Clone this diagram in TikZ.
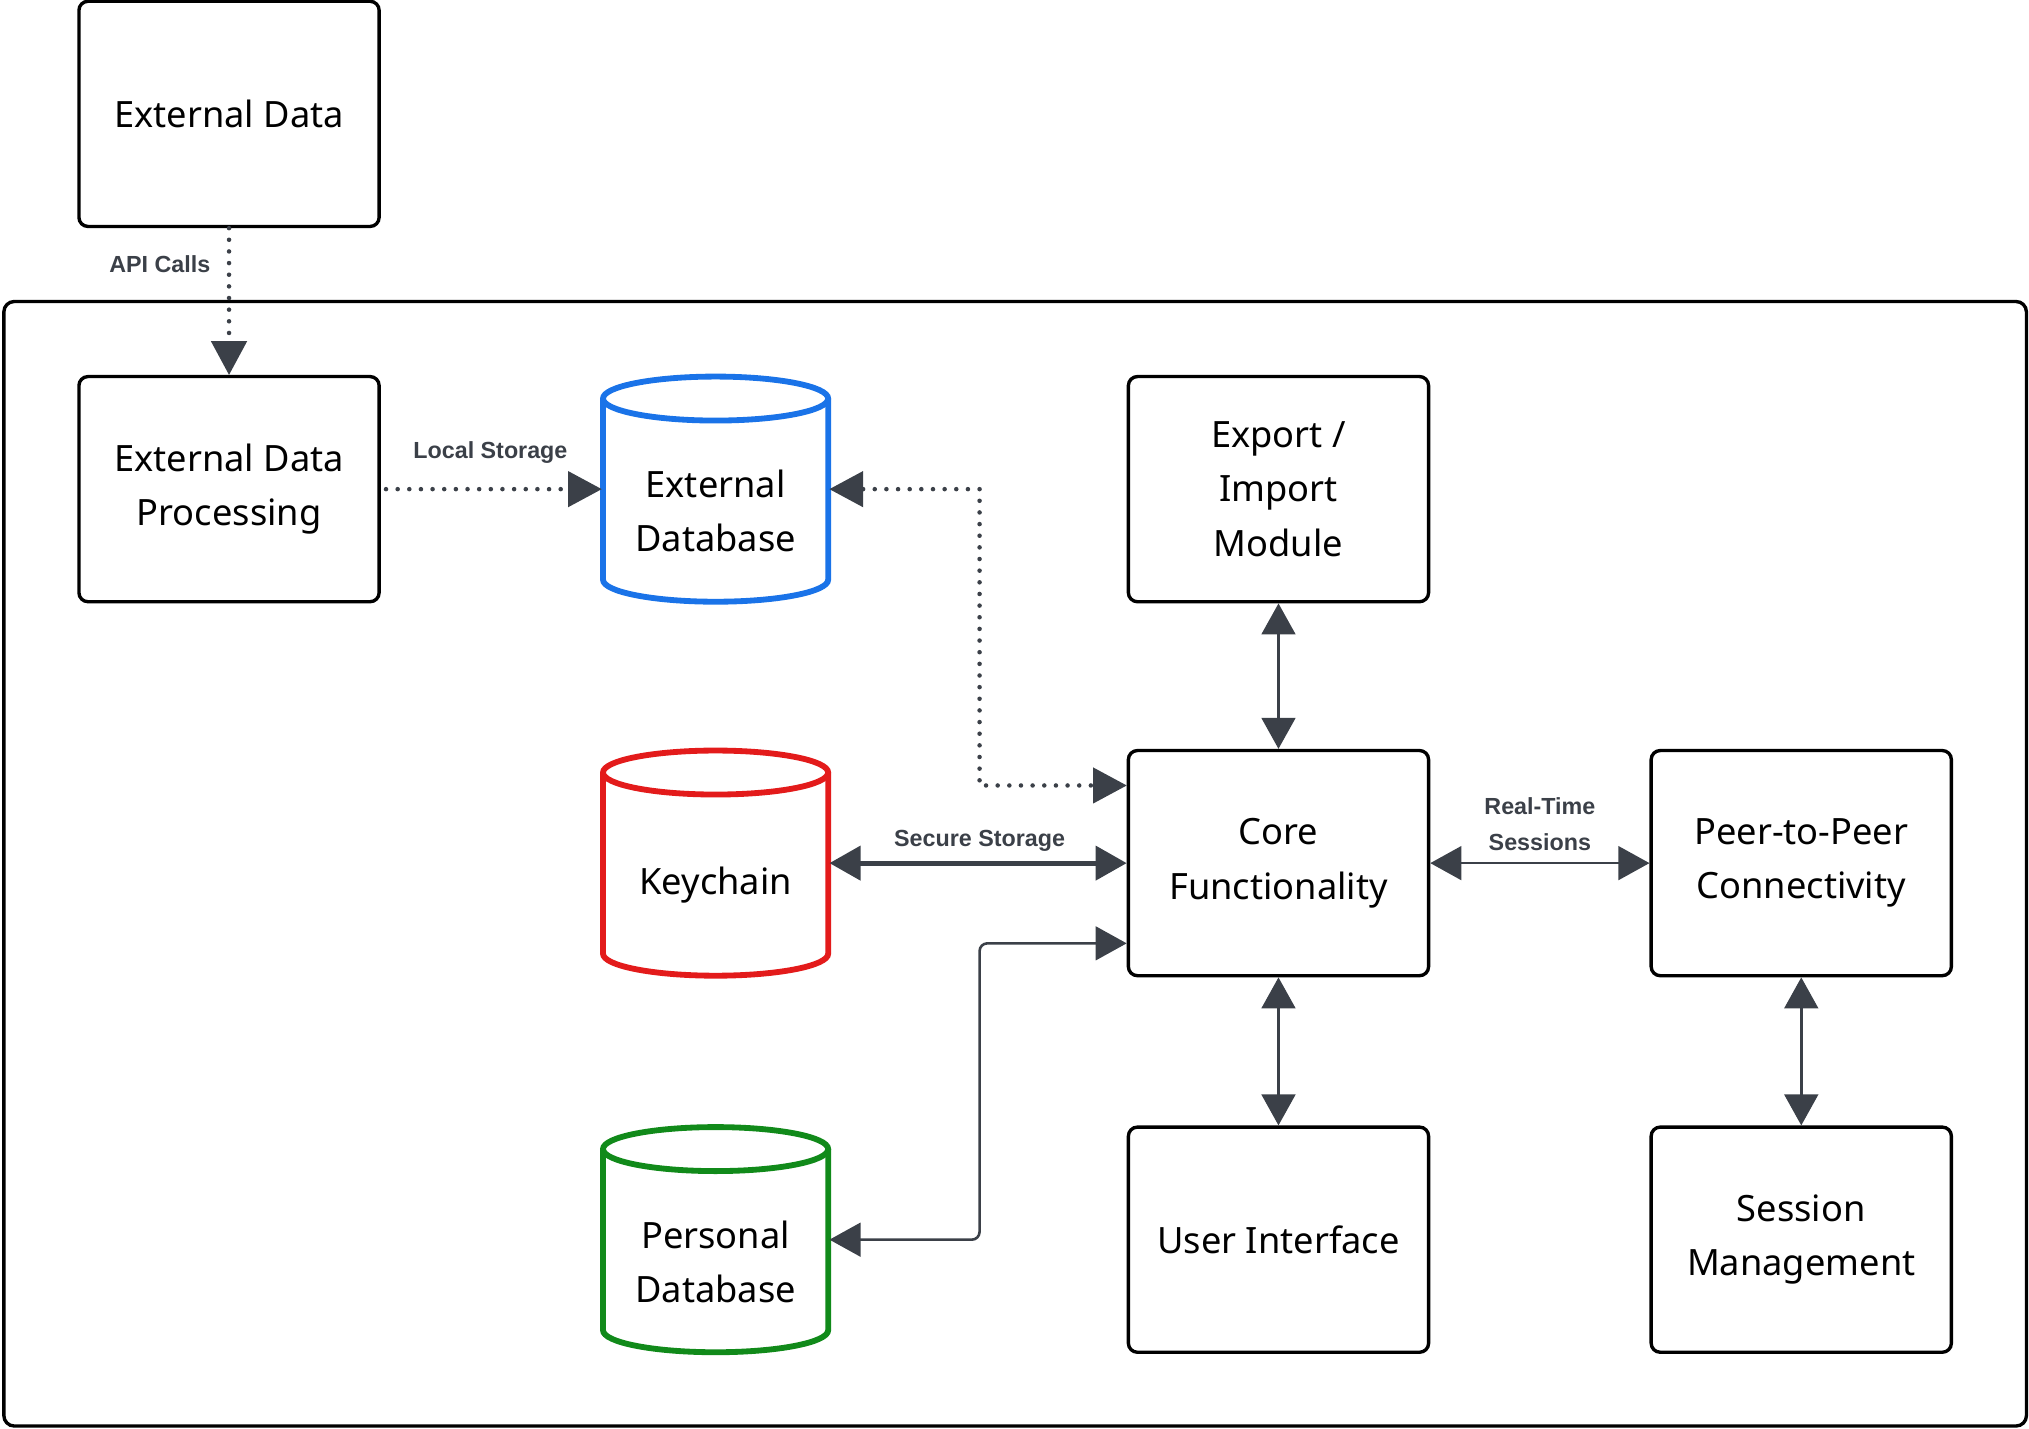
\documentclass[tikz,border=0pt]{standalone}
\usepackage{fontspec}
\setmainfont{Noto Sans}
\newfontfamily\lf{Liberation Sans}
\usetikzlibrary{arrows.meta}
\definecolor{ln}{HTML}{3B4048}
\definecolor{cb}{HTML}{1A73E8}
\definecolor{cr}{HTML}{E31B1B}
\definecolor{cg}{HTML}{118A1A}
\begin{document}
\begin{tikzpicture}[x=1pt,y=-1pt,
 box/.style={draw=black,line width=2.6pt,rounded corners=7pt,minimum width=232pt,minimum height=174pt,align=center,font=\fontsize{28}{42}\selectfont,inner sep=0pt},
 cyl/.style={minimum width=174pt,minimum height=174pt,align=center,font=\fontsize{28}{42}\selectfont,inner sep=0pt},
 dtip/.style={{Triangle[length=24pt,width=26pt]}-{Triangle[length=24pt,width=26pt]}},
 dot/.style={ln,line width=3.5pt,dash pattern=on 0pt off 9pt,line cap=round},
 lab/.style={font=\lf\bfseries\fontsize{18}{28}\selectfont,text=ln,align=center}]
\useasboundingbox (0,0) rectangle (1568,1104);
\draw[line width=2.6pt,rounded corners=8pt] (3,233) rectangle (1566,1102);
\node[box] (ed) at (177,88) {External Data};
\node[box] (edp) at (177,378) {External Data\\Processing};
\node[box] (exp) at (988,378) {Export /\\Import\\Module};
\node[box] (core) at (988,667) {Core\\Functionality};
\node[box] (p2p) at (1392,667) {Peer-to-Peer\\Connectivity};
\node[box] (ui) at (988,958) {User Interface};
\node[box] (ses) at (1392,958) {Session\\Management};
\newcommand{\drawcyl}[3]{%
 \draw[#3,line width=4.5pt,fill=white] (#1-87,#2-70) -- (#1-87,#2+70) arc[x radius=87,y radius=17,start angle=180,end angle=0] -- (#1+87,#2-70);
 \draw[#3,line width=4.5pt,fill=white] (#1,#2-70) ellipse[x radius=87,y radius=17];}
\drawcyl{553}{378}{cb}
\drawcyl{553}{667}{cr}
\drawcyl{553}{958}{cg}
\node[cyl] (xdb) at (553,395) {External\\Database};
\node[cyl] (kc) at (553,684) {Keychain};
\node[cyl] (pdb) at (553,975) {Personal\\Database};
\coordinate (xr) at (641,378);
\coordinate (kr) at (641,667);
\coordinate (pr) at (641,958);
\coordinate (xl) at (465,378);
% connectors
\draw[dot] (ed.south) -- ([yshift=24pt]edp.north);
\fill[ln] (edp.north) -- ++(-14,-26) -- ++(28,0) -- cycle;
\node[lab,anchor=east] at (166,204) {API Calls};
\draw[dot] (edp.east) ++(4,0) -- ([xshift=-24pt]xl);
\fill[ln] (xl) -- ++(-26,-14) -- ++(0,28) -- cycle;
\node[lab] at (379,350) {Local Storage};
\draw[dot] ([xshift=26pt]xr) -- (757,378) -- (757,607) -- ([xshift=-26pt]core.west|-0,607);
\fill[ln] (xr) -- ++(26,-14) -- ++(0,28) -- cycle;
\fill[ln] (core.west|-0,607) -- ++(-26,-14) -- ++(0,28) -- cycle;
\draw[ln,line width=4pt,dtip] (kr) -- (core.west|-kr);
\node[lab] at (757,650) {Secure Storage};
\draw[ln,line width=2pt,dtip,rounded corners=6pt] (pr) -- (757,958) -- (757,729) -- (core.west|-0,729);
\draw[ln,line width=2pt,dtip] (core.east) -- (p2p.west);
\node[lab] at (1190,637) {Real-Time\\Sessions};
\draw[ln,line width=2.5pt,dtip] (exp.south) -- (core.north);
\draw[ln,line width=2.5pt,dtip] (core.south) -- (ui.north);
\draw[ln,line width=2.5pt,dtip] (p2p.south) -- (ses.north);
\end{tikzpicture}
\end{document}
